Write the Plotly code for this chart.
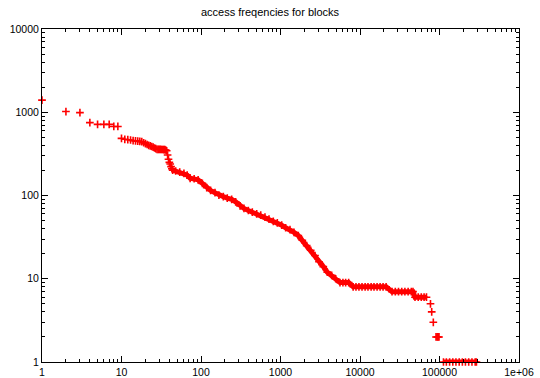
import plotly.graph_objects as go

# ---- data (rank vs. access frequency) ----
head_rank = [1, 2, 3, 4, 5, 6, 7, 8, 9, 10, 11, 12, 13, 14, 15, 16, 17, 18, 19, 20,
             21, 22, 23, 24, 25, 26, 27, 28, 29, 30, 31, 32, 33, 34, 35, 36, 37, 38,
             39, 40, 41, 42, 43, 44]
head_freq = [1400, 1020, 990, 750, 715, 715, 715, 675, 675, 486, 473, 468, 464, 455,
             453, 450, 446, 443, 430, 420, 410, 400, 395, 388, 382, 372, 365, 359, 359,
             358, 358, 357, 357, 356, 355, 352, 345, 306, 272, 250, 239, 222, 210, 202]

body_rank = [48, 54, 61, 67, 73, 82, 92, 104, 118, 132, 150, 168, 191, 214, 243, 273,
             310, 347, 394, 442, 502, 564, 638, 717, 812, 912, 1035, 1162, 1316, 1479,
             1675, 1880, 2136, 2398, 2716, 3050, 3453, 3878, 4406, 4946]
body_freq = [197, 191, 184, 176, 161, 159, 154, 140, 124, 115, 108, 101, 97, 93, 90, 84,
             75, 70, 66, 63, 60, 58, 55, 52, 49, 47, 44, 41, 39, 36, 33, 29, 25, 22, 19,
             16, 14, 12, 11, 10]

tail_rank = [5600, 6100, 6600, 7200,
             8200, 8900, 9700, 10600, 11600, 12600, 13800, 15000, 16400, 17900, 19500, 21300,
             25300, 27800, 30500, 33500, 36700, 40300, 44200, 46400,
             49200, 54000, 59000, 64000, 68600,
             77000, 79800, 83600,
             90400, 93500, 96000, 98600,
             112200, 122000, 134000, 147000, 161000, 177000, 194000, 212000, 233000, 256000, 281000, 291600]
tail_freq = [9, 9, 9, 9,
             8, 8, 8, 8, 8, 8, 8, 8, 8, 8, 8, 8,
             7, 7, 7, 7, 7, 7, 7, 7,
             6, 6, 6, 6, 6,
             5, 4, 3,
             2, 2, 2, 2,
             1, 1, 1, 1, 1, 1, 1, 1, 1, 1, 1, 1]

x_tickvals = [1, 10, 100, 1000, 10000, 100000, 1000000]
x_ticktext = ["1", "10", "100", "1000", "10000", "100000", "1e+06"]
y_tickvals = [1, 10, 100, 1000, 10000]
y_ticktext = ["1", "10", "100", "1000", "10000"]

ranks = head_rank + body_rank + tail_rank
freqs = head_freq + body_freq + tail_freq

# the dense part of the series overlaps into a solid band: join the
# touching runs of points (breaks where the reference shows gaps)
band_x, band_y = [], []
for r, f in zip(ranks, freqs):
    if r >= 44 and f >= 6:
        band_x.append(r); band_y.append(f)
for level in (2, 1):
    band_x.append(None); band_y.append(None)
    for r, f in zip(tail_rank, tail_freq):
        if f == level:
            band_x.append(r); band_y.append(f)

FONT = "Liberation Sans, Arial, Helvetica, sans-serif"

fig = go.Figure()
fig.add_trace(go.Scatter(
    x=band_x, y=band_y, mode="lines", connectgaps=False,
    line=dict(color="red", width=5), cliponaxis=False, showlegend=False,
    hoverinfo="skip",
))
fig.add_trace(go.Scatter(
    x=ranks, y=freqs, mode="markers",
    marker=dict(symbol="cross-thin", size=5.5, color="red",
                line=dict(color="red", width=1.6)),
    cliponaxis=False, showlegend=False,
))

axis_common = dict(
    type="log", showgrid=False, zeroline=False, automargin=False,
    showline=True, linecolor="black", linewidth=1, mirror="ticks",
    ticks="inside", ticklen=6, tickcolor="black", tickwidth=1,
    tickfont=dict(family=FONT, size=10.5, color="black"),
    minor=dict(ticks="inside", ticklen=3, tickcolor="black", dtick="D1", showgrid=False),
)

fig.update_xaxes(range=[0, 6], tickvals=x_tickvals, ticktext=x_ticktext, **axis_common)
fig.update_yaxes(range=[0, 4], tickvals=y_tickvals, ticktext=y_ticktext, **axis_common)

fig.update_layout(
    width=540, height=378,
    margin=dict(l=42, r=21, t=29, b=16, pad=0),
    paper_bgcolor="white", plot_bgcolor="white",
    title=dict(text="access freqencies for blocks", x=0.5, xref="container",
               y=1 - 12 / 378, yref="container", yanchor="middle", xanchor="center",
               automargin=False,
               font=dict(family=FONT, size=11, color="black")),
    font=dict(family=FONT, size=10.5, color="black"),
)

# the page's default 8px body margin would shift the 540x378 figure
fig.write_html("out.html", config={"displayModeBar": False},
               post_script="document.body.style.margin='0px';")
